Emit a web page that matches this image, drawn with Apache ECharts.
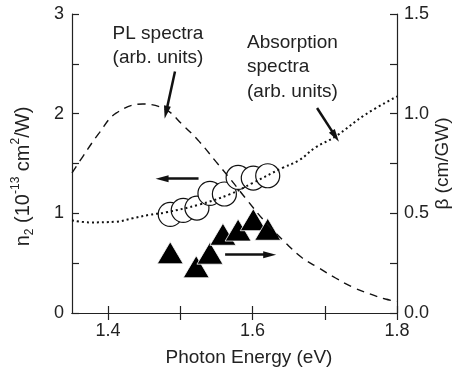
<!DOCTYPE html>
<html>
<head>
<meta charset="utf-8">
<script src="https://cdn.jsdelivr.net/npm/echarts@6/dist/echarts.min.js"></script>
<style>
  html, body { margin: 0; padding: 0; background: #fff; }
  #chart { width: 452px; height: 374px; }
</style>
</head>
<body>
<div id="chart"></div>
<script>
// n2 data (circles, left axis)
const n2Energy = [1.486, 1.504, 1.523, 1.541, 1.561, 1.580, 1.601, 1.621];
const n2Values = [0.99, 1.03, 1.053, 1.20, 1.194, 1.36, 1.354, 1.377];

// beta data (triangles, right axis)
const betaEnergy = [1.486, 1.522, 1.541, 1.559, 1.580, 1.601, 1.621];
const betaValues = [0.302, 0.232, 0.300, 0.395, 0.416, 0.468, 0.420];

// PL spectra (dashed, arb. units on left scale)
const plEnergy = [1.35, 1.365, 1.388, 1.411, 1.448, 1.480, 1.503, 1.526, 1.549, 1.570, 1.590, 1.618, 1.646, 1.669, 1.692, 1.715, 1.738, 1.761, 1.784, 1.80];
const plValues = [1.405, 1.57, 1.81, 2.005, 2.097, 2.04, 1.889, 1.722, 1.521, 1.337, 1.154, 0.91, 0.702, 0.552, 0.451, 0.351, 0.261, 0.195, 0.14, 0.115];

// absorption spectra (dotted, arb. units on left scale)
const absEnergy = [1.35, 1.374, 1.411, 1.434, 1.457, 1.48, 1.526, 1.568, 1.60, 1.641, 1.664, 1.687, 1.715, 1.756, 1.80];
const absValues = [0.93, 0.909, 0.916, 0.95, 0.985, 1.01, 1.087, 1.19, 1.304, 1.455, 1.53, 1.66, 1.772, 1.99, 2.173];

// tick / label values
const xTicks = [1.4, 1.5, 1.6, 1.7, 1.8];
const xLabels = [1.4, 1.6, 1.8];
const leftLabels = [0, 1, 2, 3];
const rightLabels = [0, 0.5, 1.0, 1.5];

// arrows [start, end] in (eV, left-axis units)
const arrows = [
  [[1.4926, 2.424], [1.4802, 2.012]],
  [[1.6893, 2.057], [1.7147, 1.772]],
  [[1.5252, 1.347], [1.4747, 1.347]],
  [[1.562, 0.585], [1.6237, 0.585]]
];

const zip = (xs, ys) => xs.map((x, i) => [x, ys[i]]);
const FONT = "'Liberation Sans', Arial, sans-serif";
const INK = "#222";

const axisLineStyle = { color: INK, width: 1.2 };

const chart = echarts.init(document.getElementById("chart"));

chart.setOption({
  animation: false,
  backgroundColor: "#fff",
  textStyle: { fontFamily: FONT },
  grid: { left: 72, right: 55, top: 14, bottom: 61, containLabel: false, outerBoundsMode: "none" },
  xAxis: [
    {
      type: "value",
      min: 1.35,
      max: 1.8,
      name: "Photon Energy (eV)",
      nameLocation: "middle",
      nameGap: 35,
      nameMoveOverlap: false,
      nameTextStyle: { fontSize: 19, color: INK, fontFamily: FONT, padding: [0, 0, 0, 29] },
      axisLine: { lineStyle: axisLineStyle },
      axisTick: { inside: true, length: 7, lineStyle: axisLineStyle, customValues: xTicks },
      axisLabel: {
        fontSize: 18, color: INK, fontFamily: FONT, margin: 9,
        customValues: xLabels,
        formatter: (v) => v.toFixed(1)
      },
      splitLine: { show: false }
    },
    {
      type: "value",
      position: "top",
      min: 1.35,
      max: 1.8,
      axisLine: { lineStyle: axisLineStyle },
      axisTick: { inside: true, length: 7, lineStyle: axisLineStyle, customValues: xTicks },
      axisLabel: { show: false },
      splitLine: { show: false }
    }
  ],
  yAxis: [
    {
      type: "value",
      min: 0,
      max: 3,
      interval: 0.5,
      name: "{t|n}{sub|2}{t| (10}{sup|-13}{t| cm}{sup|2}{t|/W)}",
      nameLocation: "middle",
      nameRotate: 90,
      nameGap: 36,
      nameMoveOverlap: false,
      nameTextStyle: {
        padding: [0, 0, 0, -26],
        rich: {
          t: { fontSize: 20, color: INK, fontFamily: FONT, lineHeight: 26 },
          sup: { fontSize: 12, color: INK, fontFamily: FONT, lineHeight: 13, verticalAlign: "top" },
          sub: { fontSize: 12, color: INK, fontFamily: FONT, lineHeight: 10, verticalAlign: "bottom" }
        }
      },
      axisLine: { show: true, lineStyle: axisLineStyle },
      axisTick: { inside: true, length: 7, lineStyle: axisLineStyle },
      axisLabel: {
        fontSize: 18, color: INK, fontFamily: FONT, margin: 8,
        customValues: leftLabels
      },
      splitLine: { show: false }
    },
    {
      type: "value",
      min: 0,
      max: 1.5,
      interval: 0.25,
      position: "right",
      name: "β (cm/GW)",
      nameLocation: "middle",
      nameRotate: 90,
      nameGap: 36,
      nameMoveOverlap: false,
      nameTextStyle: { fontSize: 19, color: INK, fontFamily: FONT },
      axisLine: { show: true, lineStyle: axisLineStyle },
      axisTick: { inside: true, length: 7, lineStyle: axisLineStyle },
      axisLabel: {
        fontSize: 18, color: INK, fontFamily: FONT, margin: 7,
        customValues: rightLabels,
        formatter: (v) => v.toFixed(1)
      },
      splitLine: { show: false }
    }
  ],
  graphic: [
    { type: "text", x: 158, y: 34, style: { text: "PL spectra", font: "19px " + FONT, fill: INK, textAlign: "center", textVerticalAlign: "middle" } },
    { type: "text", x: 158, y: 58, style: { text: "(arb. units)", font: "19px " + FONT, fill: INK, textAlign: "center", textVerticalAlign: "middle" } },
    { type: "text", x: 247, y: 43, style: { text: "Absorption", font: "19px " + FONT, fill: INK, textAlign: "left", textVerticalAlign: "middle" } },
    { type: "text", x: 247, y: 67, style: { text: "spectra", font: "19px " + FONT, fill: INK, textAlign: "left", textVerticalAlign: "middle" } },
    { type: "text", x: 247, y: 92, style: { text: "(arb. units)", font: "19px " + FONT, fill: INK, textAlign: "left", textVerticalAlign: "middle" } }
  ],
  series: [
    {
      name: "n2",
      type: "scatter",
      yAxisIndex: 0,
      z: 2,
      symbol: "circle",
      symbolSize: 24,
      itemStyle: { color: "#fff", borderColor: "#111", borderWidth: 1.2, opacity: 1 },
      data: zip(n2Energy, n2Values)
    },
    {
      name: "beta",
      type: "scatter",
      yAxisIndex: 1,
      z: 2,
      symbol: "triangle",
      symbolSize: [26, 22],
      itemStyle: { color: "#000", borderColor: "#fff", borderWidth: 0.8, opacity: 1 },
      data: zip(betaEnergy, betaValues)
    },
    {
      name: "PL",
      type: "line",
      yAxisIndex: 0,
      z: 3,
      smooth: 0.4,
      showSymbol: false,
      lineStyle: { color: "#111", width: 1.4, type: [8, 6] },
      data: zip(plEnergy, plValues),
      markLine: {
        silent: true,
        symbol: ["none", "triangle"],
        symbolSize: [7, 13],
        label: { show: false },
        lineStyle: { type: "solid", color: "#111", width: 2.5 },
        data: arrows.map(([a, b]) => [{ coord: a }, { coord: b }])
      }
    },
    {
      name: "Absorption",
      type: "line",
      yAxisIndex: 0,
      z: 3,
      smooth: 0.4,
      showSymbol: false,
      lineStyle: { color: "#111", width: 2, type: [2, 3] },
      data: zip(absEnergy, absValues)
    }
  ]
});
</script>
</body>
</html>
